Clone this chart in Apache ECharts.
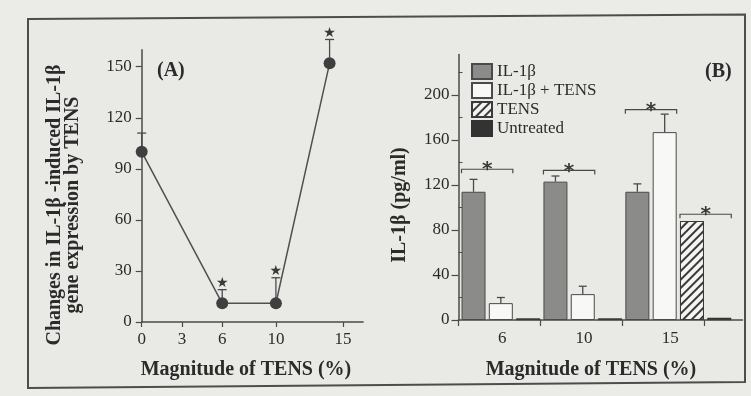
<!DOCTYPE html>
<html><head><meta charset="utf-8">
<script src="https://cdn.jsdelivr.net/npm/echarts@6/dist/echarts.min.js"></script>
<style>html,body{margin:0;padding:0;background:#ebebe8;}#c{width:751px;height:396px;}</style>
</head><body><div id="c"></div>
<script>
// ---------- Panel A data ----------
const tensMagA = [0, 6, 10, 14];
const geneChangeA = [100, 11, 11, 152];
const geneErrA = [11, 8, 15, 14];
const geneSigA = [false, true, true, true];
const xTicksA = [0, 3, 6, 10, 15];
const yTicksA = [0, 30, 60, 90, 120, 150];

// ---------- Panel B data ----------
const categoriesB = ['6', '10', '15'];
const il1b = [114, 123, 114];
const il1bErr = [11, 5, 7];
const il1bTens = [15, 23, 167];
const il1bTensErr = [5, 7, 16];
const tensOnly = [null, null, 88];
const untreated = [1.5, 1.5, 2];
const yTicksB = [0, 40, 80, 120, 160, 200];
const yMinorTicksB = [20, 60, 100, 140, 180, 220];
const sigCatB = ['6', '10', '15', '15'];
const sigFromB = ['IL-1β', 'IL-1β', 'IL-1β', 'TENS'];
const sigToB = ['IL-1β + TENS', 'IL-1β + TENS', 'IL-1β + TENS', 'Untreated'];
const sigLevelB = [134, 133, 187, 94];

// ---------- layout ----------
const serif = "'Liberation Serif', 'Times New Roman', serif";
const ink = '#2b2b2b';
const axisInk = '#4a4a4a';
const xMaxA = 16.5, yMaxA = 160;
const xMaxB = 10.4, yMaxB = 236;
const barOff = 0.55;
const barW = 24;
const labelPosB = [1.6, 4.6, 7.75];

const seriesDefB = [
  {name: 'IL-1β', values: il1b, err: il1bErr,
   itemStyle: {color: '#8b8b89', borderColor: '#4a4a4a', borderWidth: 1}},
  {name: 'IL-1β + TENS', values: il1bTens, err: il1bTensErr,
   itemStyle: {color: '#f8f8f6', borderColor: '#4a4a4a', borderWidth: 1}},
  {name: 'TENS', values: tensOnly, err: null,
   itemStyle: {color: '#f4f4f1', borderColor: '#3a3a3a', borderWidth: 1,
     decal: {symbol: 'rect', symbolSize: 1, dashArrayX: [1, 0], dashArrayY: [2, 4],
             rotation: -Math.PI / 4, color: '#3a3a3a'}}},
  {name: 'Untreated', values: untreated, err: null,
   itemStyle: {color: '#333333', borderColor: '#333333', borderWidth: 0.5}}
];

const slotCenter = {};
categoriesB.forEach((c, ci) => {
  let s = ci * 3;
  seriesDefB.forEach(sd => {
    if (sd.values[ci] != null) { slotCenter[c + '|' + sd.name] = s + barOff; s++; }
  });
});

const barSeries = seriesDefB.map(sd => ({
  type: 'bar', name: sd.name, xAxisIndex: 1, yAxisIndex: 1,
  barWidth: barW, barGap: '-100%',
  data: categoriesB.map((c, ci) => sd.values[ci] == null ? null : [slotCenter[c + '|' + sd.name], sd.values[ci]]).filter(Boolean),
  itemStyle: sd.itemStyle, z: 2, animation: false
}));

const errDataB = [];
seriesDefB.forEach(sd => {
  if (!sd.err) return;
  categoriesB.forEach((c, ci) => {
    if (sd.values[ci] != null) errDataB.push([slotCenter[c + '|' + sd.name], sd.values[ci], sd.err[ci]]);
  });
});

const sigDataB = sigCatB.map((c, i) => [slotCenter[c + '|' + sigFromB[i]], slotCenter[c + '|' + sigToB[i]], sigLevelB[i]]);

const errDataA = tensMagA.map((x, i) => [x, geneChangeA[i], geneErrA[i], geneSigA[i] ? 1 : 0]);

function errRender(capHalf, star) {
  return function (params, api) {
    const p0 = api.coord([api.value(0), api.value(1)]);
    const p1 = api.coord([api.value(0), api.value(1) + api.value(2)]);
    const children = [
      {type: 'line', shape: {x1: p0[0], y1: p0[1], x2: p1[0], y2: p1[1]}, style: {stroke: axisInk, lineWidth: 1.3}},
      {type: 'line', shape: {x1: p1[0] - capHalf, y1: p1[1], x2: p1[0] + capHalf, y2: p1[1]}, style: {stroke: axisInk, lineWidth: 1.3}}
    ];
    if (star && api.value(3)) {
      children.push({type: 'text', style: {text: '★', x: p1[0], y: p1[1] + 1, align: 'center', verticalAlign: 'bottom',
        fontFamily: 'DejaVu Sans', fontSize: 14, fill: '#3a3a3a'}});
    }
    return {type: 'group', children: children};
  };
}

const chart = echarts.init(document.getElementById('c'), null, {renderer: 'canvas', width: 751, height: 396});

chart.setOption({
  animation: false,
  backgroundColor: 'transparent',
  grid: [
    {left: 141.7, top: 322 - yMaxA * 1.702, width: xMaxA * 13.42, height: yMaxA * 1.702},
    {left: 458.5, top: 320 - yMaxB * 1.125, width: 284, height: yMaxB * 1.125}
  ],
  legend: {
    orient: 'vertical', left: 466, top: 58, itemWidth: 20, itemHeight: 15, itemGap: 2,
    selectedMode: false, icon: 'rect',
    data: seriesDefB.map(s => s.name),
    textStyle: {fontFamily: serif, fontSize: 17, color: ink}
  },
  xAxis: [
    {type: 'value', gridIndex: 0, min: 0, max: xMaxA,
     axisLine: {show: true, onZero: false, lineStyle: {color: axisInk, width: 1.5}},
     axisTick: {show: true, customValues: xTicksA, length: 5, lineStyle: {color: axisInk, width: 1.2}},
     axisLabel: {customValues: xTicksA, fontFamily: serif, fontSize: 17, color: ink, margin: 9},
     splitLine: {show: false}},
    {type: 'value', gridIndex: 1, min: 0, max: xMaxB,
     axisLine: {show: true, onZero: false, lineStyle: {color: axisInk, width: 1.5}},
     axisTick: {show: true, customValues: [0, 3, 6, 9], length: 6, lineStyle: {color: axisInk, width: 1.2}},
     axisLabel: {customValues: labelPosB, fontFamily: serif, fontSize: 17, color: ink, margin: 10,
       formatter: v => {
         let best = 0;
         labelPosB.forEach((p, i) => { if (Math.abs(p - v) < Math.abs(labelPosB[best] - v)) best = i; });
         return categoriesB[best];
       }},
     splitLine: {show: false}}
  ],
  yAxis: [
    {type: 'value', gridIndex: 0, min: 0, max: yMaxA,
     axisLine: {show: true, onZero: false, lineStyle: {color: axisInk, width: 1.5}},
     axisTick: {show: true, customValues: yTicksA, length: 6, lineStyle: {color: axisInk, width: 1.2}},
     axisLabel: {customValues: yTicksA, fontFamily: serif, fontSize: 17, color: ink, margin: 10},
     splitLine: {show: false}},
    {type: 'value', gridIndex: 1, min: 0, max: yMaxB,
     axisLine: {show: true, onZero: false, lineStyle: {color: axisInk, width: 1.5}},
     axisTick: {show: true, customValues: yTicksB, length: 7, lineStyle: {color: axisInk, width: 1.2}},
     axisLabel: {customValues: yTicksB, fontFamily: serif, fontSize: 17, color: ink, margin: 9},
     splitLine: {show: false}},
    {type: 'value', gridIndex: 1, min: 0, max: yMaxB,
     axisLine: {show: false},
     axisTick: {show: true, customValues: yMinorTicksB, length: 4, lineStyle: {color: axisInk, width: 1}},
     axisLabel: {show: false},
     splitLine: {show: false}}
  ],
  series: [
    {type: 'line', xAxisIndex: 0, yAxisIndex: 0,
     data: tensMagA.map((x, i) => [x, geneChangeA[i]]),
     symbol: 'circle', symbolSize: 12,
     itemStyle: {color: '#3f3f3f'}, lineStyle: {color: '#505050', width: 1.5}, z: 3},
    {type: 'custom', xAxisIndex: 0, yAxisIndex: 0, data: errDataA,
     encode: {x: 0, y: 1}, renderItem: errRender(4.5, true), z: 2},
    ...barSeries,
    {type: 'custom', xAxisIndex: 1, yAxisIndex: 1, data: errDataB,
     encode: {x: 0, y: 1}, renderItem: errRender(4, false), z: 4},
    {type: 'custom', xAxisIndex: 1, yAxisIndex: 1, data: sigDataB, z: 4,
     encode: {x: [0, 1], y: 2},
     renderItem: function (params, api) {
       const a = api.coord([api.value(0), api.value(2)]);
       const b = api.coord([api.value(1), api.value(2)]);
       const x1 = a[0] - barW / 2, x2 = b[0] + barW / 2, y = a[1];
       return {type: 'group', children: [
         {type: 'polyline', shape: {points: [[x1, y + 4], [x1, y], [x2, y], [x2, y + 4]]},
          style: {stroke: axisInk, lineWidth: 1.2, fill: null}},
         {type: 'text', style: {text: '*', x: (x1 + x2) / 2, y: y + 11, align: 'center', verticalAlign: 'bottom',
           fontFamily: 'DejaVu Sans', fontWeight: 'bold', fontSize: 20, fill: '#3a3a3a'}}
       ]};
     }}
  ],
  graphic: [
    {type: 'polygon', z: -10, shape: {points: [[28, 19], [745, 14.5], [745, 382], [28, 388]]},
     style: {fill: '#e9e9e6', stroke: '#4d4d4d', lineWidth: 2}},
    {type: 'text', left: 157, top: 61, style: {text: '(A)', fontFamily: serif, fontWeight: 'bold', fontSize: 20, fill: ink}},
    {type: 'text', left: 705, top: 62, style: {text: '(B)', fontFamily: serif, fontWeight: 'bold', fontSize: 20, fill: ink}},
    {type: 'text', x: 246, y: 370, style: {text: 'Magnitude of TENS (%)', align: 'center', verticalAlign: 'middle',
      fontFamily: serif, fontWeight: 'bold', fontSize: 20, fill: ink}},
    {type: 'text', x: 591, y: 370, style: {text: 'Magnitude of TENS (%)', align: 'center', verticalAlign: 'middle',
      fontFamily: serif, fontWeight: 'bold', fontSize: 20, fill: ink}},
    {type: 'text', x: 64, y: 205, rotation: Math.PI / 2,
     style: {text: 'Changes in IL-1β -induced IL-1β\ngene expression by TENS', align: 'center', verticalAlign: 'middle',
      lineHeight: 18, fontFamily: serif, fontWeight: 'bold', fontSize: 20, fill: ink}},
    {type: 'text', x: 400, y: 205, rotation: Math.PI / 2,
     style: {text: 'IL-1β (pg/ml)', align: 'center', verticalAlign: 'middle',
      fontFamily: serif, fontWeight: 'bold', fontSize: 20, fill: ink}}
  ]
});
</script>
</body></html>
